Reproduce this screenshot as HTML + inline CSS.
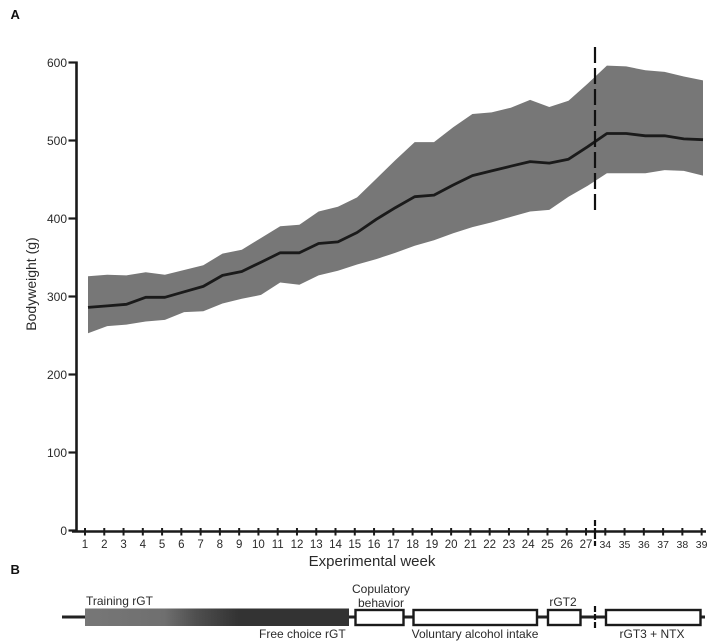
<!DOCTYPE html>
<html>
<head>
<meta charset="utf-8">
<title>Bodyweight chart</title>
<style>
html,body{margin:0;padding:0;background:#fff;}
svg{display:block;}
text{font-family:"Liberation Sans",Arial,sans-serif;fill:#2a2a2a;}
</style>
</head>
<body>
<svg id="chart" width="708" height="642" viewBox="0 0 708 642" xmlns="http://www.w3.org/2000/svg">
  <defs>
    <linearGradient id="rgt-gradient" x1="0" x2="1" y1="0" y2="0">
      <stop offset="0" stop-color="#777"/>
      <stop offset="0.3" stop-color="#6f6f6f"/>
      <stop offset="0.42" stop-color="#4f4f4f"/>
      <stop offset="0.58" stop-color="#333"/>
      <stop offset="1" stop-color="#333"/>
    </linearGradient>
  </defs>

  <text x="10.5" y="19" font-size="13" font-weight="bold" style="fill:#111">A</text>
  <text x="10.5" y="574" font-size="13" font-weight="bold" style="fill:#111">B</text>

  <path id="band" fill="#777"></path>
  <path id="mean" fill="none" stroke="#1a1a1a" stroke-width="2.8" stroke-linejoin="round"></path>

  <g id="y-axis"></g>
  <g id="x-axis"></g>

  <text transform="translate(36,284) rotate(-90)" text-anchor="middle" font-size="14">Bodyweight (g)</text>
  <text x="372" y="566" text-anchor="middle" font-size="15">Experimental week</text>

  <line x1="595" x2="595" y1="47" y2="211" stroke="#111" stroke-width="2.2" stroke-dasharray="16 5"/>
  <line x1="595" x2="595" y1="520" y2="546" stroke="#111" stroke-width="2.2" stroke-dasharray="6 2 11 2 5 0"/>

  <g>
    <line x1="62" x2="705" y1="617" y2="617" stroke="#222" stroke-width="3"/>
    <rect x="85" y="608.5" width="264" height="17.5" fill="url(#rgt-gradient)"/>
    <rect x="355.5" y="610" width="48" height="15" fill="#fff" stroke="#1a1a1a" stroke-width="2.4"/>
    <rect x="413.5" y="610" width="123.5" height="15" fill="#fff" stroke="#1a1a1a" stroke-width="2.4"/>
    <rect x="548" y="610" width="32.5" height="15" fill="#fff" stroke="#1a1a1a" stroke-width="2.4"/>
    <rect x="606" y="610" width="94.5" height="15" fill="#fff" stroke="#1a1a1a" stroke-width="2.4"/>
    <line x1="595" x2="595" y1="606" y2="629" stroke="#111" stroke-width="2.2" stroke-dasharray="6 2"/>
    <text x="86" y="605" font-size="12">Training rGT</text>
    <text x="259" y="638" font-size="12">Free choice rGT</text>
    <text x="381" y="593" text-anchor="middle" font-size="12">Copulatory</text>
    <text x="381" y="607" text-anchor="middle" font-size="12">behavior</text>
    <text x="475" y="638" text-anchor="middle" font-size="12">Voluntary alcohol intake</text>
    <text x="563" y="606" text-anchor="middle" font-size="12">rGT2</text>
    <text x="652" y="638" text-anchor="middle" font-size="12">rGT3 + NTX</text>
  </g>
</svg>
<script>
const weeks = [1,2,3,4,5,6,7,8,9,10,11,12,13,14,15,16,17,18,19,20,21,22,23,24,25,26,27,34,35,36,37,38,39];
const meanValues = [286,288,290,299,299,306,313,327,332,344,356,356,368,370,382,399,414,428,430,443,455,461,467,473,471,476,492,509,509,506,506,502,501];
const upperValues = [326,328,327,331,328,334,340,355,360,375,390,392,409,415,427,451,475,498,498,517,534,536,542,552,543,551,573,596,595,590,588,582,577];
const lowerValues = [253,262,264,268,270,280,281,291,297,302,318,315,327,333,341,348,356,365,372,381,389,395,402,409,411,428,442,458,458,458,462,461,455];
const yTicks = [0,100,200,300,400,500,600];

const NS = 'http://www.w3.org/2000/svg';
function xTickPos(i){ return 85 + i * 19.27; }
function xDataPos(i){ return 88 + i * 19.22; }
function yPos(v){ return 530.5 - v * 0.78; }
function pointList(vals){ return vals.map(function(v,i){ return xDataPos(i).toFixed(1) + ' ' + yPos(v).toFixed(1); }); }

document.getElementById('band').setAttribute('d',
  'M' + pointList(upperValues).join(' L') + ' L' + pointList(lowerValues).reverse().join(' L') + ' Z');
document.getElementById('mean').setAttribute('d', 'M' + pointList(meanValues).join(' L'));

function line(parent,x1,y1,x2,y2,w){
  const l = document.createElementNS(NS,'line');
  l.setAttribute('x1',x1); l.setAttribute('y1',y1);
  l.setAttribute('x2',x2); l.setAttribute('y2',y2);
  l.setAttribute('stroke','#1a1a1a'); l.setAttribute('stroke-width',w);
  parent.appendChild(l);
  return l;
}
function label(parent,x,y,str,size,anchor){
  const t = document.createElementNS(NS,'text');
  t.setAttribute('x',x); t.setAttribute('y',y);
  t.setAttribute('font-size',size); t.setAttribute('text-anchor',anchor);
  t.textContent = str;
  parent.appendChild(t);
  return t;
}

const yAxis = document.getElementById('y-axis');
const yLine = line(yAxis,76.5,61.5,76.5,531.5,2.6);


yTicks.forEach(function(v){
  const tick = line(yAxis,68.5,yPos(v),77.5,yPos(v),2.2);
  
  
  const txt = label(yAxis,67,yPos(v)+4.5,String(v),12,'end');
  
  
});

const xAxis = document.getElementById('x-axis');
const xLine = line(xAxis,72,531.5,706,531.5,2.4);


weeks.forEach(function(w,i){
  const tick = line(xAxis,xTickPos(i),528,xTickPos(i),535.5,2);
  
  
  const txt = label(xAxis,xTickPos(i),548,String(w),w > 27 ? 10.5 : 11.5,'middle');
  
  
});
</script>
</body>
</html>
